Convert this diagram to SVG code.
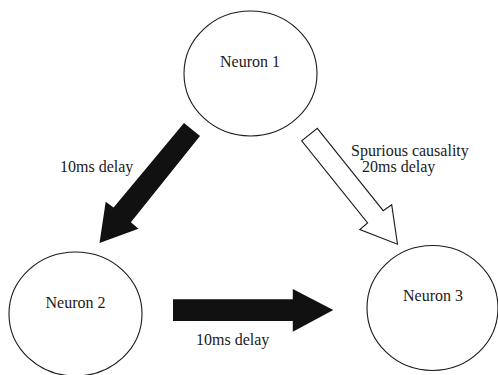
<svg xmlns="http://www.w3.org/2000/svg" width="498" height="375" viewBox="0 0 498 375">
<style>
.node ellipse{fill:#fff;stroke:#1a1a1a;stroke-width:1.1}
.solid{fill:#111;stroke:none}
.hollow{fill:#fff;stroke:#1a1a1a;stroke-width:1.1;stroke-linejoin:miter}
</style>
<rect width="498" height="375" fill="#fff"/>
<g id="connectors">
<polygon class="solid" points="184,123 200,136 130.9,222.3 138.5,228.8 99.5,243 105.7,201.7 113.6,207.5"/>
<polygon class="solid" points="173,299.3 292.8,299.3 292.8,289 333.3,310 292.8,331.7 292.8,321 173,321"/>
<polygon class="hollow" points="317.3,128.3 383.2,210.7 391.7,204.8 397.5,244.2 359.8,229.6 367.6,222.9 301.7,140.8"/>
<text style="font-family:'Liberation Serif',serif;font-size:16px" fill="#1a1a1a" x="60" y="172">10ms delay</text>
<text style="font-family:'Liberation Serif',serif;font-size:16px" fill="#1a1a1a" x="196" y="345">10ms delay</text>
<text style="font-family:'Liberation Serif',serif;font-size:16px" fill="#1a1a1a" x="351" y="156">Spurious causality</text>
<text style="font-family:'Liberation Serif',serif;font-size:16px" fill="#1a1a1a" x="362" y="172">20ms delay</text>
</g>
<g id="neuron1" class="node">
<ellipse cx="250.5" cy="73.5" rx="66.5" ry="62.5"/>
<text style="font-family:'Liberation Serif',serif;font-size:16px" fill="#1a1a1a" text-anchor="middle" x="250" y="67">Neuron 1</text>
</g>
<g id="neuron2" class="node">
<ellipse cx="75.5" cy="314" rx="66.5" ry="62"/>
<text style="font-family:'Liberation Serif',serif;font-size:16px" fill="#1a1a1a" text-anchor="middle" x="75.5" y="308">Neuron 2</text>
</g>
<g id="neuron3" class="node">
<ellipse cx="432.5" cy="308" rx="65.5" ry="62.5"/>
<text style="font-family:'Liberation Serif',serif;font-size:16px" fill="#1a1a1a" text-anchor="middle" x="433" y="301">Neuron 3</text>
</g>
</svg>
